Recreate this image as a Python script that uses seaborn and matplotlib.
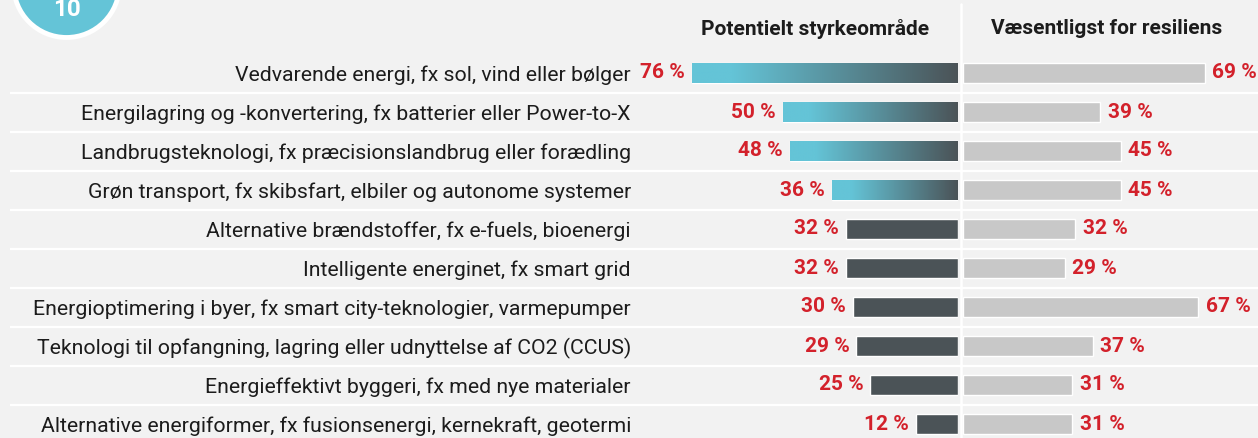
import numpy as np
import seaborn as sns
from matplotlib import pyplot as plt
from matplotlib.colors import LinearSegmentedColormap
from matplotlib.lines import Line2D
from matplotlib.patches import Circle

categories = [
    'Vedvarende energi, fx sol, vind eller bølger',
    'Energilagring og -konvertering, fx batterier eller Power-to-X',
    'Landbrugsteknologi, fx præcisionslandbrug eller forædling',
    'Grøn transport, fx skibsfart, elbiler og autonome systemer',
    'Alternative brændstoffer, fx e-fuels, bioenergi',
    'Intelligente energinet, fx smart grid',
    'Energioptimering i byer, fx smart city-teknologier, varmepumper',
    'Teknologi til opfangning, lagring eller udnyttelse af CO2 (CCUS)',
    'Energieffektivt byggeri, fx med nye materialer',
    'Alternative energiformer, fx fusionsenergi, kernekraft, geotermi',
]
styrke = [76, 50, 48, 36, 32, 32, 30, 29, 25, 12]
resiliens = [69, 39, 45, 45, 32, 29, 67, 37, 31, 31]
headers = ['Potentielt styrkeområde', 'Væsentligst for resiliens']
n_highlight = 4

BG = '#f2f2f2'
CYAN = '#64c4d7'
DARK = '#4b5357'
GREY = '#c8c8c8'
RED = '#d3212b'
TEXT = '#1c1c1c'
NUM_FONT = ['Liberation Sans Narrow', 'Roboto', 'DejaVu Sans']

W, H = 1258, 438
sns.set_style('white')
plt.rcParams['font.family'] = ['Roboto', 'DejaVu Sans']

fig = plt.figure(figsize=(W / 100, H / 100), dpi=100, facecolor=BG)


def box(x0, y0, x1, y1):
    # pixel box (top-left origin) -> figure fraction rect
    return [x0 / W, 1 - y1 / H, (x1 - x0) / W, (y1 - y0) / H]


px_per_pct = 3.5
row_top, row_h = 53.5, 39.0
rows_bottom = row_top + row_h * len(categories)

# background with row separators
bg = fig.add_axes(box(10, row_top, W, rows_bottom))
bg.set_xlim(0, 1)
bg.set_ylim(len(categories) - 0.5, -0.5)
for k in range(len(categories) - 1):
    bg.axhline(k + 0.5, color='white', lw=1.6)
bg.axis('off')

# left panel
x_left, x_zero = 640, 958
axl = fig.add_axes(box(x_left, row_top, x_zero, rows_bottom))
left_colors = [CYAN] * n_highlight + [DARK] * (len(categories) - n_highlight)
sns.barplot(x=styrke, y=categories, hue=categories, palette=left_colors,
            orient='h', width=0.52, legend=False, ax=axl, saturation=1)

grad = LinearSegmentedColormap.from_list('g', [(0, CYAN), (0.15, CYAN), (1, DARK)])
gradient = np.linspace(0, 1, 256).reshape(1, -1)
for i, patch in enumerate(axl.patches[:n_highlight]):
    y0 = patch.get_y()
    im = axl.imshow(gradient, cmap=grad, aspect='auto', zorder=3,
                    extent=(styrke[i], 0, y0 + patch.get_height(), y0))
    im.set_clip_path(patch)
axl.set_xlim((x_zero - x_left) / px_per_pct, 0)
axl.set_ylim(len(categories) - 0.5, -0.5)

for i, v in enumerate(styrke):
    axl.annotate(f'{v} %', (v, i), xytext=(-7, 0), textcoords='offset pixels',
                 ha='right', va='center', color=RED, fontsize=15,
                 fontweight='bold', family=NUM_FONT)

axl.set_xlabel('')
axl.set_ylabel('')
axl.set_xticks([])
axl.tick_params(axis='y', length=0, pad=6.5, labelsize=15.3, labelcolor=TEXT)
axl.set_facecolor('none')
sns.despine(ax=axl, left=True, bottom=True)

# right panel
x_zero_r = 963
axr = fig.add_axes(box(x_zero_r, row_top, W, rows_bottom))
sns.barplot(x=resiliens, y=categories, orient='h', width=0.52, color=GREY,
            saturation=1, ax=axr)
axr.set_xlim(0, (W - x_zero_r) / px_per_pct)
axr.set_ylim(len(categories) - 0.5, -0.5)
for i, v in enumerate(resiliens):
    axr.annotate(f'{v} %', (v, i), xytext=(8, 0), textcoords='offset pixels',
                 ha='left', va='center', color=RED, fontsize=15,
                 fontweight='bold', family=NUM_FONT)
axr.set_xlabel('')
axr.set_ylabel('')
axr.set_xticks([])
axr.set_yticks([])
axr.set_facecolor('none')
sns.despine(ax=axr, left=True, bottom=True)

# headers
fig.text(815 / W, 1 - 29 / H, headers[0], ha='center', va='center',
         fontsize=15, fontweight='bold', color=TEXT)
fig.text(1107 / W, 1 - 29 / H, headers[1], ha='center', va='center',
         fontsize=15, fontweight='bold', color=TEXT)

# divider
fig.add_artist(Line2D([961 / W, 961 / W], [0, 1 - 4 / H], color='white',
                      lw=1.8, transform=fig.transFigure))

# badge
deco = fig.add_axes([0, 0, 1, 1])
deco.set_xlim(0, W)
deco.set_ylim(H, 0)
deco.axis('off')
deco.add_patch(Circle((66.5, -15.5), 53, facecolor=CYAN, edgecolor='white',
                      lw=3.5, clip_on=False))
deco.text(67, 16.5, '10', ha='center', va='baseline', color='white',
          fontsize=17.5, fontweight='bold')

fig.savefig('out.png', dpi=100, facecolor=BG)
